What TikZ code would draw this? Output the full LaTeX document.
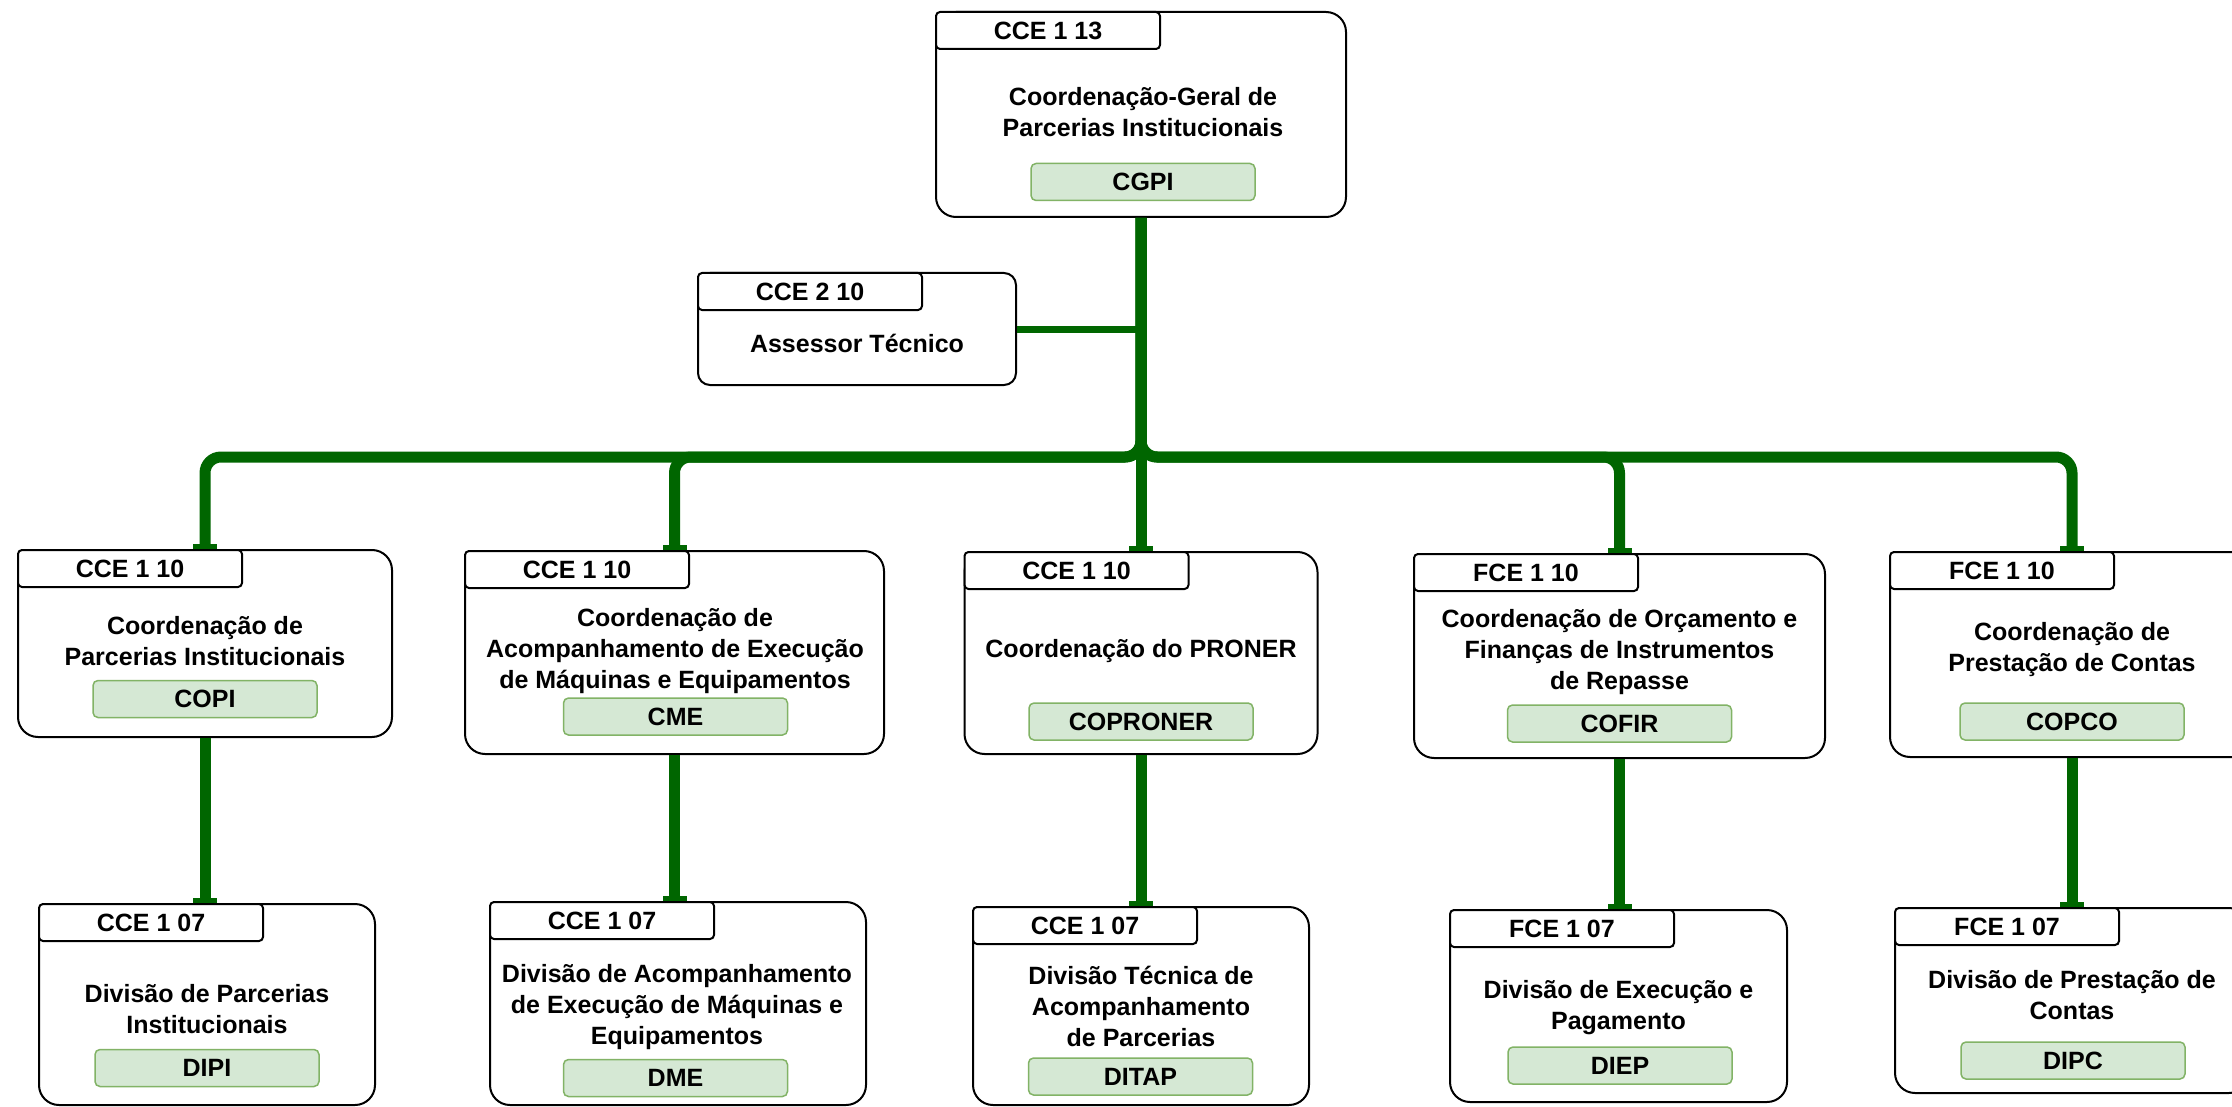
\documentclass[tikz,border=0pt]{standalone}
\usepackage{fontspec}
\setmainfont{Liberation Sans}
\usetikzlibrary{arrows.meta}
\definecolor{verde}{HTML}{006600}
\definecolor{siglafundo}{HTML}{D5E8D4}
\definecolor{siglaborda}{HTML}{82B366}
\begin{document}
\begin{tikzpicture}[x=1pt,y=-1pt,
  font=\bfseries\fontsize{25}{31}\selectfont,
  caixa/.style={draw,line width=2pt,rounded corners=20pt,fill=white,inner sep=0pt},
  aba/.style={draw,line width=2pt,rounded corners=4pt,fill=white,anchor=north west,minimum width=224pt,minimum height=37pt,inner sep=0pt},
  titulo/.style={align=center,inner sep=0pt},
  sigla/.style={draw=siglaborda,fill=siglafundo,line width=1.5pt,rounded corners=5pt,minimum width=224pt,minimum height=37pt,inner sep=0pt},
  ligacao/.style={draw=verde,line width=11pt,rounded corners=16pt,-{Rectangle[length=5pt,width=24pt]}},
  ligacaofina/.style={draw=verde,line width=7pt}]
\useasboundingbox (0,0) rectangle (2232,1107);
\clip (0,0) rectangle (2232,1107);
\coordinate (barra) at (1141,457);

\node[caixa,minimum width=410pt,minimum height=205pt] (cgpi) at (1141,114.5) {};
\node[aba] (cgpi-aba) at (cgpi.north west) {CCE 1 13};
\node[titulo] (cgpi-titulo) at (1143,112) {Coordenação-Geral de\\Parcerias Institucionais};
\node[sigla] (cgpi-sigla) at (1143,182) {CGPI};

\node[caixa,rounded corners=12pt,minimum width=318pt,minimum height=112pt] (assessor) at (857,329) {};
\node[aba] (assessor-aba) at (assessor.north west) {CCE 2 10};
\node[titulo] (assessor-titulo) at (857,343) {Assessor Técnico};

\node[caixa,minimum width=374pt,minimum height=187pt] (copi) at (205,643.5) {};
\node[aba] (copi-aba) at (copi.north west) {CCE 1 10};
\node[titulo] (copi-titulo) at (205,641) {Coordenação de\\Parcerias Institucionais};
\node[sigla] (copi-sigla) at (205,699) {COPI};

\node[caixa,minimum width=419pt,minimum height=203pt] (cme) at (674.5,652.5) {};
\node[aba] (cme-aba) at (cme.north west) {CCE 1 10};
\node[titulo] (cme-titulo) at (675,651) {Coordenação de\\Acompanhamento de Execução\\de Máquinas e Equipamentos};
\node[sigla] (cme-sigla) at (675.5,716.5) {CME};

\node[caixa,minimum width=353pt,minimum height=202pt] (coproner) at (1141,653) {};
\node[aba] (coproner-aba) at (coproner.north west) {CCE 1 10};
\node[titulo] (coproner-titulo) at (1141,651) {Coordenação do PRONER};
\node[sigla] (coproner-sigla) at (1141,721.5) {COPRONER};

\node[caixa,minimum width=411pt,minimum height=204pt] (cofir) at (1619.5,656) {};
\node[aba] (cofir-aba) at (cofir.north west) {FCE 1 10};
\node[titulo] (cofir-titulo) at (1619.5,652) {Coordenação de Orçamento e\\Finanças de Instrumentos\\de Repasse};
\node[sigla] (cofir-sigla) at (1619.5,723.5) {COFIR};

\node[caixa,minimum width=364pt,minimum height=205pt] (copco) at (2072,654.5) {};
\node[aba] (copco-aba) at (copco.north west) {FCE 1 10};
\node[titulo] (copco-titulo) at (2072,650) {Coordenação de\\Prestação de Contas};
\node[sigla] (copco-sigla) at (2072,721.5) {COPCO};

\node[caixa,minimum width=336pt,minimum height=201pt] (dipi) at (207,1004.5) {};
\node[aba] (dipi-aba) at (dipi.north west) {CCE 1 07};
\node[titulo] (dipi-titulo) at (207,1009) {Divisão de Parcerias\\Institucionais};
\node[sigla] (dipi-sigla) at (207,1068) {DIPI};

\node[caixa,minimum width=376pt,minimum height=203pt] (dme) at (678,1003.5) {};
\node[aba] (dme-aba) at (dme.north west) {CCE 1 07};
\node[titulo] (dme-titulo) at (677,1007.5) {Divisão de Acompanhamento\\de Execução de Máquinas e\\Equipamentos};
\node[sigla] (dme-sigla) at (675.5,1078) {DME};

\node[caixa,minimum width=336pt,minimum height=198pt] (ditap) at (1141,1006) {};
\node[aba] (ditap-aba) at (ditap.north west) {CCE 1 07};
\node[titulo] (ditap-titulo) at (1141,1006) {Divisão Técnica de\\Acompanhamento\\de Parcerias};
\node[sigla] (ditap-sigla) at (1140.5,1076.5) {DITAP};

\node[caixa,minimum width=337pt,minimum height=192pt] (diep) at (1618.5,1006) {};
\node[aba] (diep-aba) at (diep.north west) {FCE 1 07};
\node[titulo] (diep-titulo) at (1618.5,1008) {Divisão de Execução e\\Pagamento};
\node[sigla] (diep-sigla) at (1620,1065.5) {DIEP};

\node[caixa,minimum width=354pt,minimum height=185pt] (dipc) at (2072,1000.5) {};
\node[aba] (dipc-aba) at (dipc.north west) {FCE 1 07};
\node[titulo] (dipc-titulo) at (2072,995) {Divisão de Prestação de\\Contas};
\node[sigla] (dipc-sigla) at (2073,1060.5) {DIPC};

\draw[ligacaofina] (assessor.east) -- (assessor.east -| cgpi.south);
\draw[ligacao] (cgpi.south) |- (copi.north |- barra) -- (copi.north);
\draw[ligacao] (cgpi.south) |- (cme.north |- barra) -- (cme.north);
\draw[ligacao] (cgpi.south) -- (coproner.north);
\draw[ligacao] (cgpi.south) |- (cofir.north |- barra) -- (cofir.north);
\draw[ligacao] (cgpi.south) |- (copco.north |- barra) -- (copco.north);

\draw[ligacao] (copi.south) -- (copi.south |- dipi.north);
\draw[ligacao] (cme.south) -- (cme.south |- dme.north);
\draw[ligacao] (coproner.south) -- (ditap.north);
\draw[ligacao] (cofir.south) -- (cofir.south |- diep.north);
\draw[ligacao] (copco.south) -- (copco.south |- dipc.north);
\end{tikzpicture}
\end{document}
